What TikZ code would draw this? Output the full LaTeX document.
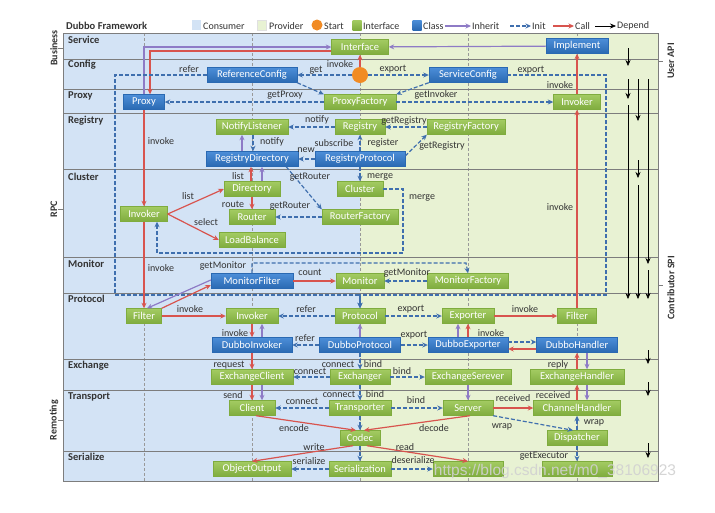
\documentclass[tikz,border=0pt]{standalone}
\usepackage{fontspec}
\setmainfont{Carlito}
\newfontfamily\wmfont{Liberation Sans}
\usetikzlibrary{arrows.meta}
\definecolor{grnT}{HTML}{A3CB62}
\definecolor{grnB}{HTML}{7FAC3E}
\definecolor{bluT}{HTML}{4C8ED8}
\definecolor{bluB}{HTML}{2A69B2}
\definecolor{initC}{HTML}{3F6FAE}
\definecolor{callC}{HTML}{D8544E}
\definecolor{inhC}{HTML}{8E7BC6}
\definecolor{consC}{HTML}{D3E3F5}
\definecolor{provC}{HTML}{E8F2D3}
\definecolor{startC}{HTML}{F18B24}
\definecolor{rowC}{HTML}{7D7D7D}
\begin{document}
\begin{tikzpicture}[x=1pt,y=-1pt,
  box/.style={minimum height=15pt,inner sep=1.5pt,text=white,line width=0.4pt,font=\fontsize{10.5}{11}\selectfont},
  gbox/.style={box,draw=grnB,top color=grnT,bottom color=grnB},
  bbox/.style={box,draw=bluB,top color=bluT,bottom color=bluB},
  tip/.style={-{Stealth[length=5.5pt,width=5pt]}},
  inh/.style={tip,draw=inhC,line width=1.2pt},
  ini/.style={tip,draw=initC,line width=1.2pt,dash pattern=on 4pt off 2pt},
  cal/.style={tip,draw=callC,line width=1.2pt},
  dep/.style={-{Stealth[length=6pt,width=5pt]},draw=black,line width=0.6pt},
  lbl/.style={font=\fontsize{10}{11}\selectfont,text=black!80,inner sep=0pt},
  layer/.style={anchor=west,font=\bfseries\fontsize{10.5}{11}\selectfont,text=black!80,inner sep=1pt},
  grp/.style={rotate=90,font=\bfseries\fontsize{10}{11}\selectfont,text=black!80},
  lgd/.style={anchor=west,font=\fontsize{10}{11}\selectfont,text=black!80,inner sep=1pt},
  lgsq/.style={minimum width=9pt,minimum height=10pt,inner sep=0pt}]
\useasboundingbox (0,0) rectangle (715,512);
\fill[white] (0,0) rectangle (715,512);
\fill[consC] (63,33) rectangle (360,481);
\fill[provC] (360,33) rectangle (658,481);
\foreach \xx in {144,252,360,468,577}
  \draw[black!40,line width=0.5pt,dash pattern=on 3pt off 2pt] (\xx,33) -- (\xx,481);
\foreach \yy in {59,89,113,169,257,293,359,390,451}
  \draw[rowC,line width=0.8pt] (63,\yy) -- (658,\yy);
\draw[rowC,line width=0.9pt] (63,33) rectangle (658,481);
\foreach \ty in {48,209,420}
  \draw[rowC,line width=0.9pt] (58,\ty) -- (63,\ty);
\foreach \ty in {61,285}
  \draw[rowC,line width=0.9pt] (658,\ty) -- (663,\ty);
\node[grp] (gBus) at (54,48) {Business};
\node[grp] (gRpc) at (54,209) {RPC};
\node[grp] (gRem) at (54,420) {Remoting};
\node[grp] (gUsr) at (671,61) {User API};
\node[grp] (gSpi) at (671,288) {Contributor SPI};
\foreach \ly/\lt in {40/Service,65/Config,96/Proxy,121/Registry,177/Cluster,264/Monitor,299/Protocol,366/Exchange,397/Transport,457/Serialize}
  \node[layer] (ly\lt) at (67,\ly) {\lt};

\node[layer,font=\bfseries\fontsize{10.5}{11}\selectfont] (title) at (65,26) {Dubbo Framework};
\node[lgsq,fill=consC] (sqCon) at (196,25) {};
\node[lgd] (lgCon) at (202,26) {Consumer};
\node[lgsq,fill=provC,draw=black!12] (sqPro) at (262,25) {};
\node[lgd] (lgPro) at (268,26) {Provider};
\node[circle,fill=startC,minimum size=11pt,inner sep=0pt] (sqSta) at (317,25) {};
\node[lgd] (lgSta) at (323,26) {Start};
\node[lgsq,top color=grnT,bottom color=grnB] (sqInt) at (357,25) {};
\node[lgd] (lgInt) at (362,26) {Interface};
\node[lgsq,top color=bluT,bottom color=bluB] (sqCla) at (417,25) {};
\node[lgd] (lgCla) at (422,26) {Class};
\node[lgd] (lgInh) at (471,26) {Inherit};
\draw[inh] ([xshift=-26pt]lgInh.west) -- (lgInh.west);
\node[lgd] (lgIni) at (531,26) {Init};
\draw[ini] ([xshift=-21pt]lgIni.west) -- (lgIni.west);
\node[lgd] (lgCal) at (574,26) {Call};
\draw[cal] ([xshift=-21pt]lgCal.west) -- (lgCal.west);
\node[lgd] (lgDep) at (616,26) {Depend};
\draw[dep] ([xshift=-21pt]lgDep.west) -- (lgDep.west);

\foreach \dx/\ya/\yb in {628/48/66,628/79/99,628/105/299,638/79/121,638/160/178,638/185/299,648/79/264,648/270/299,648/350/364,648/382/396,648/443/458}
  \draw[dep] (\dx,\ya) -- (\dx,\yb);

\node[gbox,minimum width=57pt] (iface) at (360,47) {Interface};
\node[bbox,minimum width=62pt] (impl) at (577,46) {Implement};
\node[bbox,minimum width=90pt] (rcfg) at (252,75) {ReferenceConfig};
\node[circle,fill=startC,minimum size=16pt,inner sep=0pt] (st) at (360,75) {};
\node[bbox,minimum width=78pt] (scfg) at (468,75) {ServiceConfig};
\node[bbox,minimum width=41pt] (prx) at (144,102) {Proxy};
\node[gbox,minimum width=72pt] (pfac) at (360,102) {ProxyFactory};
\node[gbox,minimum width=47pt] (pinv) at (577,102) {Invoker};
\node[gbox,minimum width=72pt] (nlis) at (252,127) {NotifyListener};
\node[gbox,minimum width=50pt] (reg) at (360,127) {Registry};
\node[gbox,minimum width=78pt] (rfac) at (466,127) {RegistryFactory};
\node[bbox,minimum width=92pt] (rdir) at (252,159) {RegistryDirectory};
\node[bbox,minimum width=90pt] (rpro) at (360,159) {RegistryProtocol};
\node[gbox,minimum width=56pt] (dir) at (252,189) {Directory};
\node[gbox,minimum width=46pt] (clu) at (360,189) {Cluster};
\node[gbox,minimum width=47pt] (cinv) at (144,214) {Invoker};
\node[gbox,minimum width=46pt] (rout) at (252,217) {Router};
\node[gbox,minimum width=76pt] (rtf) at (360,217) {RouterFactory};
\node[gbox,minimum width=66pt] (lb) at (252,240) {LoadBalance};
\node[bbox,minimum width=82pt] (mflt) at (252,281) {MonitorFilter};
\node[gbox,minimum width=48pt] (mon) at (360,281) {Monitor};
\node[gbox,minimum width=81pt] (mfac) at (468,281) {MonitorFactory};
\node[gbox,minimum width=35pt] (filc) at (144,316) {Filter};
\node[gbox,minimum width=52pt] (ivk) at (252,316) {Invoker};
\node[gbox,minimum width=50pt] (prot) at (360,316) {Protocol};
\node[gbox,minimum width=52pt] (expo) at (468,316) {Exporter};
\node[gbox,minimum width=39pt] (filp) at (577,316) {Filter};
\node[bbox,minimum width=80pt] (dinv) at (252,345) {DubboInvoker};
\node[bbox,minimum width=81pt] (dpro) at (360,345) {DubboProtocol};
\node[bbox,minimum width=80pt] (dexp) at (468,345) {DubboExporter};
\node[bbox,minimum width=81pt] (dhd) at (577,345) {DubboHandler};
\node[gbox,minimum width=82pt] (xcl) at (252,377) {ExchangeClient};
\node[gbox,minimum width=60pt] (xer) at (360,377) {Exchanger};
\node[gbox,minimum width=86pt] (xsv) at (468,377) {ExchangeSerever};
\node[gbox,minimum width=94pt] (xhd) at (577,377) {ExchangeHandler};
\node[gbox,minimum width=46pt] (cli) at (252,408) {Client};
\node[gbox,minimum width=62pt] (tra) at (360,408) {Transporter};
\node[gbox,minimum width=50pt] (srv) at (468,408) {Server};
\node[gbox,minimum width=87pt] (chd) at (577,408) {ChannelHandler};
\node[gbox,minimum width=40pt] (cod) at (360,438) {Codec};
\node[gbox,minimum width=60pt] (dsp) at (577,438) {Dispatcher};
\node[gbox,minimum width=78pt] (oout) at (252,469) {ObjectOutput};
\node[gbox,minimum width=62pt] (ser) at (360,469) {Serialization};
\node[gbox,minimum width=70pt] (oin) at (468,469) {};
\node[gbox,minimum width=70pt] (tpool) at (577,469) {};
\coordinate (rfl) at (115,295);
\coordinate (sxr) at (606,295);
\coordinate (mrg) at (403,253);
\coordinate (gm) at (466,263);

\draw[inh] (impl) -- (iface);
\draw[inh] (prx.north) |- (iface.west);
\draw[cal] ([yshift=-4pt]iface.west) -| ([xshift=6pt]prx.north);
\draw[cal] (st) -- (iface);
\draw[ini] (st) -- (rcfg);
\draw[ini] (st) -- (scfg);
\draw[ini] (rcfg.south east) -- (pfac.north west);
\draw[ini] (scfg.south west) -- (pfac.north east);
\draw[ini] (pfac) -- (prx);
\draw[ini] (pfac) -- (pinv);
\draw[ini] (rcfg.west) -| (rfl) -| (prot.north);
\draw[ini] (scfg.east) -| (sxr) -| (prot.north);
\draw[cal] (prx) -- (cinv);
\draw[cal] (cinv) -- (filc);
\draw[ini] (reg) -- (nlis);
\draw[ini] (rfac) -- (reg);
\draw[ini] (rpro) -- (reg);
\draw[ini] (rpro) -- (rdir);
\draw[ini] ([yshift=3pt]rpro.east) -- (rfac.south west);
\draw[inh] ([xshift=-10pt]rdir.north) -- ([xshift=-10pt]nlis.south);
\draw[ini] ([xshift=1pt]nlis.south) -- ([xshift=1pt]rdir.north);
\draw[cal] ([xshift=-1pt]dir.north) -- ([xshift=-1pt]rdir.south);
\draw[inh] ([xshift=10pt]dir.north) -- ([xshift=10pt]rdir.south);
\draw[cal] (dir) -- (rout);
\draw[ini] ([xshift=-12pt]rdir.south east) -- (rtf.north west);
\draw[ini] (rtf) -- (rout);
\draw[ini] (rpro) -- (clu);
\draw[cal] (cinv.east) -- (dir.west);
\draw[cal] (cinv.east) -- (lb.west);
\draw[ini] (clu.east) -| (mrg) -| ([xshift=13pt]cinv.south);
\draw[ini] (mflt.north) |- (gm) -- (mfac.north);
\draw[cal] (filc.north east) -- ([yshift=-4pt]mflt.west);
\draw[inh] ([yshift=1pt]mflt.west) -- ([xshift=3pt]filc.north);
\draw[cal] (mflt) -- (mon);
\draw[ini] (mfac) -- (mon);
\draw[cal] (filc) -- (ivk);
\draw[ini] (prot) -- (ivk);
\draw[ini] (prot) -- (expo);
\draw[cal] (expo) -- (filp);
\draw[cal] (filp) -- (pinv);
\draw[cal] (pinv) -- (impl);
\draw[cal] (ivk) -- (dinv);
\draw[inh] ([xshift=10pt]dinv.north) -- ([xshift=10pt]ivk.south);
\draw[inh] (dpro) -- (prot);
\draw[ini] (dpro) -- (dinv);
\draw[ini] (dpro) -- (dexp);
\draw[inh] ([xshift=-10pt]dexp.north) -- ([xshift=-10pt]expo.south);
\draw[cal] (dexp) -- (expo);
\draw[ini] ([yshift=3pt]dexp.east) -- ([yshift=3pt]dhd.west);
\draw[cal] ([yshift=-4pt]dhd.west) -- ([yshift=-4pt]dexp.east);
\draw[cal] (xhd) -- (dhd);
\draw[inh] ([xshift=10pt]dhd.south) -- ([xshift=10pt]xhd.north);
\draw[cal] (dinv) -- (xcl);
\draw[ini] (dpro) -- (xer);
\draw[ini] (xer) -- (xcl);
\draw[ini] (xer) -- (xsv);
\draw[cal] (xcl) -- (cli);
\draw[inh] ([xshift=10pt]xcl.south) -- ([xshift=10pt]cli.north);
\draw[inh] (xsv) -- (srv);
\draw[cal] (chd) -- (xhd);
\draw[inh] ([xshift=10pt]xhd.south) -- ([xshift=10pt]chd.north);
\draw[ini] (xer) -- (tra);
\draw[ini] (tra) -- (cli);
\draw[ini] (tra) -- (srv);
\draw[cal] (srv) -- (chd);
\draw[ini] (srv.south east) -- ([xshift=-4pt]dsp.north);
\draw[ini] (dsp) -- (chd);
\draw[ini] (dsp) -- (tpool);
\draw[cal] ([xshift=4pt]cli.south) -- ([xshift=-4pt]cod.north);
\draw[cal] ([xshift=2pt]srv.south) -- ([xshift=4pt]cod.north);
\draw[ini] (tra) -- (cod);
\draw[cal] ([xshift=-7pt]cod.south) -- (oout.north);
\draw[cal] ([xshift=7pt]cod.south) -- (oin.north);
\draw[ini] (cod) -- (ser);
\draw[ini] (ser) -- (oout);
\draw[ini] (ser) -- (oin);

\foreach \lx/\ly/\lt [count=\li] in {340/64/invoke,316/70/get,393/69/export,189/69/refer,531/70/export,
  285/95/getProxy,436/95/getInvoker,560/85/invoke,317/120/notify,404/121/getRegistry,334/143/subscribe,
  383/143/register,306/150/new,442/146/getRegistry,272/142/notify,161/141/invoke,238/176/list,
  310/177/getRouter,380/177/merge,233/204/route,290/206/getRouter,188/196/list,206/222/select,
  422/198/merge,560/207/invoke,161/268/invoke,223/266/getMonitor,310/272/count,407/273/getMonitor,
  190/309/invoke,306/309/refer,411/309/export,525/309/invoke,235/333/invoke,305/338/refer,
  414/335/export,491/333/invoke,229/365/request,338/364/connect,373/364/bind,558/365/reply,
  310/371/connect,402/371/bind,233/395/send,339/394/connect,375/394/bind,302/401/connect,
  416/400/bind,513/398/received,553/395/received,294/428/encode,434/428/decode,502/427/wrap,
  594/423/wrap,314/447/write,405/447/read,309/461/serialize,413/460/deserialize,544/456/getExecutor}
  \node[lbl] (lab\li) at (\lx,\ly) {\lt};

\node[font=\wmfont\fontsize{15.5}{16}\selectfont,text=white!82!black,opacity=0.9] (wm) at (555,471) {https://blog.csdn.net/m0\_38106923};
\end{tikzpicture}
\end{document}
